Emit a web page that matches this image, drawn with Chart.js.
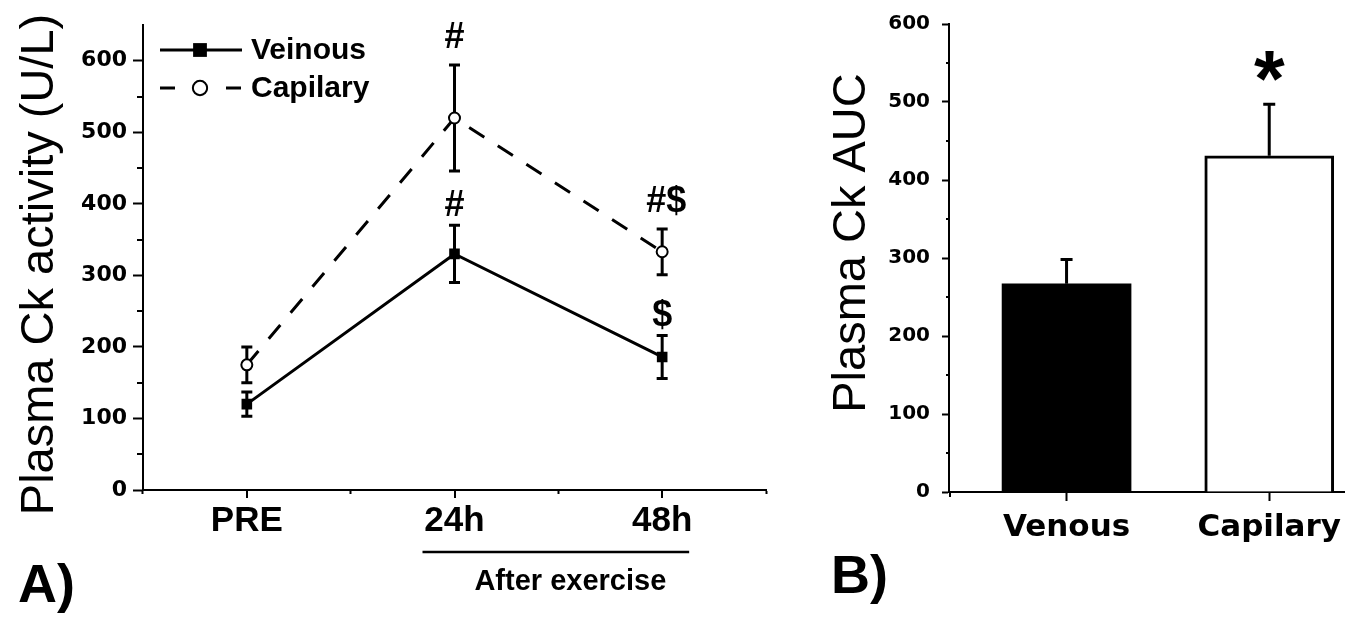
<!DOCTYPE html>
<html><head><meta charset="utf-8">
<script src="https://cdn.jsdelivr.net/npm/chart.js@4.4.1/dist/chart.umd.min.js"></script>
<style>
html,body{margin:0;padding:0;background:#fff;width:1349px;height:617px;overflow:hidden}
#a{position:absolute;left:0;top:0}
#b{position:absolute;left:800px;top:0}
</style></head><body>
<canvas id="a" width="800" height="617"></canvas>
<canvas id="b" width="549" height="617"></canvas>
<script>
// ---------- Panel A data ----------
const timePoints = ['PRE', '24h', '48h'];
const veinousMean = [120, 330, 186];
const veinousSEM = [17, 40, 30];
const capilaryMean = [175, 520, 333];
const capilarySEM = [25, 74, 32];
const veinousSig = ['', '#', '$'];
const capilarySig = ['', '#', '#$'];
const leftYMin = 0, leftYMax = 650, leftYStep = 50, leftYLabelEvery = 100;

// ---------- Panel B data ----------
const aucGroups = ['Venous', 'Capilary'];
const aucPositions = [1, 2];
const aucMean = [267, 431];
const aucSEM = [31, 66];
const aucSig = ['', '*'];
const rightYMin = 0, rightYMax = 600, rightYStep = 50, rightYLabelEvery = 100;

const ARIAL = "'Liberation Sans', Arial, sans-serif";
const DEJAVU = "'DejaVu Sans', sans-serif";

function minorYTicks(ctx, yScale, left, len, min, max, step, every) {
  ctx.save();
  ctx.strokeStyle = '#000'; ctx.lineWidth = 2;
  for (let v = min; v < max; v += step) {
    if (v % every === 0) continue;
    const py = Math.round(yScale.getPixelForValue(v));
    ctx.beginPath(); ctx.moveTo(left - len, py); ctx.lineTo(left, py); ctx.stroke();
  }
  ctx.restore();
}

// ---------- Panel A plugin ----------
const leftDeco = {
  id: 'leftDeco',
  beforeDatasetsDraw(chart) {
    const { ctx, scales: { x, y } } = chart;
    ctx.save();
    ctx.strokeStyle = '#000'; ctx.lineWidth = 3; ctx.lineCap = 'butt';
    chart.data.datasets.forEach(ds => {
      ds.data.forEach((v, i) => {
        const px = x.getPixelForValue(i);
        const t = y.getPixelForValue(v + ds.sem[i]);
        const b = y.getPixelForValue(v - ds.sem[i]);
        ctx.beginPath();
        ctx.moveTo(px, t); ctx.lineTo(px, b);
        ctx.moveTo(px - 5.5, t); ctx.lineTo(px + 5.5, t);
        ctx.moveTo(px - 5.5, b); ctx.lineTo(px + 5.5, b);
        ctx.stroke();
      });
    });
    ctx.restore();
  },
  afterDraw(chart) {
    const { ctx, chartArea: ca, scales: { x, y } } = chart;
    ctx.save();
    ctx.strokeStyle = '#000'; ctx.lineWidth = 2;
    timePoints.forEach((_, i) => {
      const px = Math.round(x.getPixelForValue(i));
      ctx.beginPath(); ctx.moveTo(px, ca.bottom); ctx.lineTo(px, ca.bottom + 8); ctx.stroke();
    });
    ctx.restore();
    minorYTicks(ctx, y, ca.left, 6, leftYMin, leftYMax, leftYStep, leftYLabelEvery);

    ctx.save();
    ctx.fillStyle = '#000';
    // significance marks
    ctx.font = 'bold 36px ' + ARIAL; ctx.textAlign = 'center'; ctx.textBaseline = 'alphabetic';
    chart.data.datasets.forEach(ds => {
      ds.data.forEach((v, i) => {
        if (!ds.sig[i]) return;
        const px = x.getPixelForValue(i);
        const t = y.getPixelForValue(v + ds.sem[i]);
        ctx.fillText(ds.sig[i], px + (ds.sig[i].length > 1 ? 4 : 0), t - ds.sigGap);
      });
    });

    // legend
    const lx = ca.left;
    chart.data.datasets.forEach((ds, k) => {
      const ly = ca.top + 25 + k * 38;
      ctx.save();
      ctx.strokeStyle = '#000'; ctx.lineWidth = 3;
      ctx.setLineDash(ds.borderDash && ds.borderDash.length ? [15, 18] : []);
      ctx.beginPath(); ctx.moveTo(lx + 17, ly); ctx.lineTo(lx + 99, ly); ctx.stroke();
      ctx.setLineDash([]);
      ctx.fillStyle = ds.pointBackgroundColor; ctx.strokeStyle = ds.pointBorderColor;
      ctx.lineWidth = ds.pointBorderWidth;
      Chart.helpers.drawPoint(ctx, { pointStyle: ds.pointStyle, radius: ds.pointRadius * 1.3, borderWidth: ds.pointBorderWidth, rotation: 0 }, lx + 57, ly);
      ctx.restore();
      ctx.fillStyle = '#000';
      ctx.font = 'bold 30px ' + ARIAL; ctx.textAlign = 'left'; ctx.textBaseline = 'middle';
      ctx.fillText(ds.label, lx + 108, ly + 1);
    });

    // y axis title
    ctx.save();
    ctx.translate(ca.left - 90, (ca.top + ca.bottom) / 2 + 7);
    ctx.rotate(-Math.PI / 2);
    ctx.font = '47px ' + ARIAL; ctx.textAlign = 'center'; ctx.textBaseline = 'alphabetic';
    ctx.fillText('Plasma Ck activity (U/L)', 0, 0);
    ctx.restore();

    // After exercise bracket
    const x1 = x.getPixelForValue(1), x2 = x.getPixelForValue(2);
    ctx.strokeStyle = '#000'; ctx.lineWidth = 2.5;
    ctx.beginPath(); ctx.moveTo(x1 - 32, ca.bottom + 62); ctx.lineTo(x2 + 27, ca.bottom + 62); ctx.stroke();
    ctx.font = 'bold 29px ' + ARIAL; ctx.textAlign = 'center'; ctx.textBaseline = 'alphabetic';
    ctx.fillText('After exercise', (x1 + x2) / 2 + 12, ca.bottom + 100);

    // panel letter
    ctx.font = 'bold 54px ' + ARIAL; ctx.textAlign = 'left';
    ctx.fillText('A)', 18, 602);
    ctx.restore();
  }
};

new Chart(document.getElementById('a'), {
  type: 'line',
  data: {
    labels: timePoints,
    datasets: [
      {
        label: 'Veinous', data: veinousMean, sem: veinousSEM, sig: veinousSig, sigGap: 9,
        borderColor: '#000', borderWidth: 3, tension: 0,
        pointStyle: 'rect', pointRadius: 7.5, pointBackgroundColor: '#000', pointBorderColor: '#000', pointBorderWidth: 0
      },
      {
        label: 'Capilary', data: capilaryMean, sem: capilarySEM, sig: capilarySig, sigGap: 17,
        borderColor: '#000', borderWidth: 3, borderDash: [18, 16], tension: 0,
        pointStyle: 'circle', pointRadius: 5.5, pointBackgroundColor: '#fff', pointBorderColor: '#000', pointBorderWidth: 2
      }
    ]
  },
  options: {
    responsive: false, animation: false, devicePixelRatio: 1,
    layout: { padding: { left: 0, top: 25, right: 34, bottom: 0 } },
    plugins: { legend: { display: false }, tooltip: { enabled: false } },
    scales: {
      x: {
        type: 'category', offset: true,
        grid: { offset: true, drawOnChartArea: false, drawTicks: true, tickLength: 4, tickWidth: 2, tickColor: '#000' },
        border: { display: true, color: '#000', width: 2 },
        ticks: { color: '#000', font: { family: ARIAL, size: 35, weight: 'bold' }, padding: 6, maxRotation: 0 },
        afterFit: s => { s.height = 127; }
      },
      y: {
        min: leftYMin, max: leftYMax,
        grid: {
          drawOnChartArea: false, drawTicks: true, tickLength: 10, tickWidth: 2,
          tickColor: c => (c.tick && c.tick.value % leftYLabelEvery === 0) ? '#000' : 'rgba(0,0,0,0)'
        },
        border: { display: true, color: '#000', width: 2 },
        ticks: {
          stepSize: leftYStep, autoSkip: false, color: '#000', padding: 6,
          font: { family: DEJAVU, size: 22, weight: 'bold' },
          callback: v => (v % leftYLabelEvery === 0 ? v : '')
        },
        afterFit: s => { s.width = 143; }
      }
    }
  },
  plugins: [leftDeco]
});

// ---------- Panel B plugin ----------
const rightDeco = {
  id: 'rightDeco',
  afterDatasetsDraw(chart) {
    const { ctx, scales: { x, y } } = chart;
    ctx.save();
    ctx.strokeStyle = '#000'; ctx.lineWidth = 3;
    aucMean.forEach((v, i) => {
      const px = x.getPixelForValue(aucPositions[i]);
      const b = y.getPixelForValue(v);
      const t = y.getPixelForValue(v + aucSEM[i]);
      ctx.beginPath();
      ctx.moveTo(px, b); ctx.lineTo(px, t);
      ctx.moveTo(px - 6, t); ctx.lineTo(px + 6, t);
      ctx.stroke();
      if (aucSig[i]) {
        ctx.fillStyle = '#000';
        ctx.textAlign = 'center'; ctx.textBaseline = 'alphabetic';
        ctx.font = 'bold 100px ' + ARIAL;
        const m = ctx.measureText(aucSig[i]);
        const h = m.actualBoundingBoxAscent + m.actualBoundingBoxDescent;
        const size = 100 * 30 / h;
        ctx.font = 'bold ' + size + 'px ' + ARIAL;
        const m2 = ctx.measureText(aucSig[i]);
        const cy = t - 38;
        ctx.fillText(aucSig[i], px, cy + (m2.actualBoundingBoxAscent - m2.actualBoundingBoxDescent) / 2);
      }
    });
    ctx.restore();
  },
  afterDraw(chart) {
    const { ctx, chartArea: ca, scales: { y } } = chart;
    minorYTicks(ctx, y, ca.left, 3, rightYMin, rightYMax, rightYStep, rightYLabelEvery);
    ctx.save();
    ctx.strokeStyle = '#000'; ctx.lineWidth = 2;
    ctx.beginPath(); ctx.moveTo(ca.left + 1, ca.bottom); ctx.lineTo(ca.left + 1, ca.bottom + 5); ctx.stroke();
    ctx.fillStyle = '#000';
    ctx.translate(ca.left - 84, (ca.top + ca.bottom) / 2 - 15);
    ctx.rotate(-Math.PI / 2);
    ctx.font = '47px ' + ARIAL; ctx.textAlign = 'center'; ctx.textBaseline = 'alphabetic';
    ctx.fillText('Plasma Ck AUC', 0, 0);
    ctx.restore();
    ctx.save();
    ctx.fillStyle = '#000';
    ctx.font = 'bold 54px ' + ARIAL; ctx.textAlign = 'left'; ctx.textBaseline = 'alphabetic';
    ctx.fillText('B)', 31, 593);
    ctx.restore();
  }
};

new Chart(document.getElementById('b'), {
  type: 'bar',
  data: {
    datasets: [{
      label: 'Plasma Ck AUC',
      data: aucPositions.map((p, i) => ({ x: p, y: aucMean[i] })),
      backgroundColor: ['#000', '#fff'],
      borderColor: '#000',
      borderWidth: [0, 3],
      borderSkipped: 'start',
      barThickness: 129
    }]
  },
  options: {
    responsive: false, animation: false, devicePixelRatio: 1,
    layout: { padding: { left: 0, top: 24, right: 0, bottom: 0 } },
    plugins: { legend: { display: false }, tooltip: { enabled: false } },
    scales: {
      x: {
        type: 'linear', min: 0.42, max: 2.37, offset: false,
        afterBuildTicks: s => { s.ticks = aucPositions.map(v => ({ value: v })); },
        grid: { offset: false, drawOnChartArea: false, drawTicks: true, tickLength: 9, tickWidth: 2, tickColor: '#000' },
        border: { display: true, color: '#000', width: 2 },
        ticks: {
          color: '#000', padding: 8, maxRotation: 0, autoSkip: false,
          font: { family: DEJAVU, size: 31, weight: 'bold' },
          callback: (v, i) => aucGroups[i]
        },
        afterFit: s => { s.height = 125; }
      },
      y: {
        min: rightYMin, max: rightYMax,
        grid: {
          drawOnChartArea: false, drawTicks: true, tickLength: 7, tickWidth: 2,
          tickColor: c => (c.tick && c.tick.value % rightYLabelEvery === 0) ? '#000' : 'rgba(0,0,0,0)'
        },
        border: { display: true, color: '#000', width: 2 },
        ticks: {
          stepSize: rightYStep, autoSkip: false, color: '#000', padding: 12,
          font: { family: DEJAVU, size: 20, weight: 'bold' },
          callback: v => (v % rightYLabelEvery === 0 ? v : '')
        },
        afterFit: s => { s.width = 149; }
      }
    }
  },
  plugins: [rightDeco]
});
</script>
</body></html>
